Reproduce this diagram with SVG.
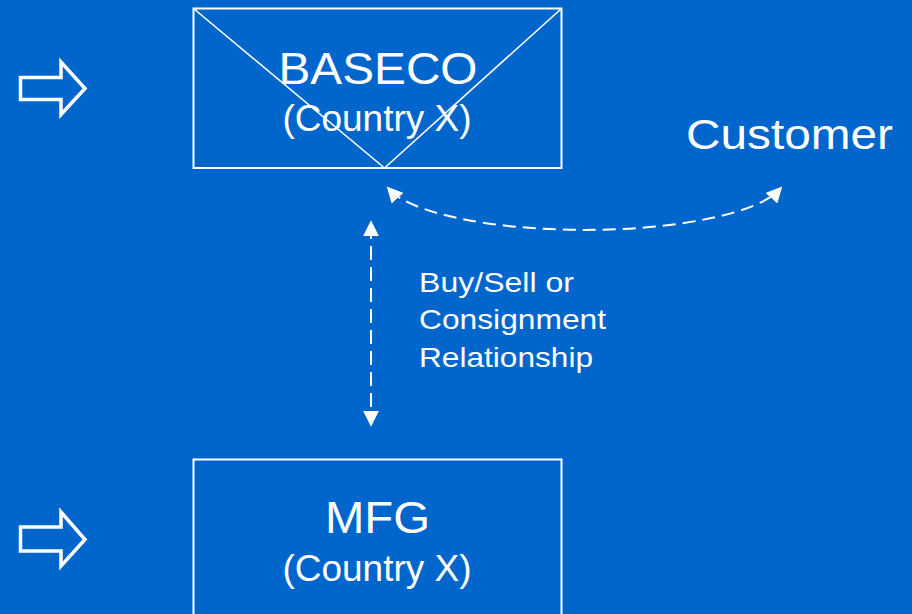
<svg xmlns="http://www.w3.org/2000/svg" width="912" height="614" viewBox="0 0 912 614">
  <defs>
    <style>
      .bg { fill: #0066cc; }
      .box { fill: none; stroke: #ffffff; stroke-width: 2; }
      .diag { stroke: #ffffff; stroke-width: 1.6; fill: none; }
      .blk { fill: none; stroke: #ffffff; stroke-width: 3.5; stroke-linejoin: miter; }
      .lbl { fill: #ffffff; font-family: "Liberation Sans", Arial, sans-serif; }
      .dash { fill: none; stroke: #ffffff; stroke-width: 2; }
    </style>
    <marker id="head" viewBox="0 0 10 10" refX="7" refY="5" markerWidth="16" markerHeight="16" markerUnits="userSpaceOnUse" orient="auto-start-reverse">
      <path d="M0,0 L10,5 L0,10 z" fill="#ffffff"/>
    </marker>
  </defs>

  <rect class="bg" x="0" y="0" width="912" height="614"/>

  <!-- side indicator arrows -->
  <g id="arrow-top">
    <polygon class="blk" points="20.5,77.5 61,77.5 61,62 85,88.5 61,114.5 61,99.5 20.5,99.5"/>
  </g>
  <g id="arrow-bottom">
    <polygon class="blk" points="20.5,527 61,527 61,512 85,539.5 61,566 61,551 20.5,551"/>
  </g>

  <!-- BASECO node -->
  <g id="baseco">
    <rect class="box" x="193.5" y="8.5" width="368" height="159.5"/>
    <line class="diag" x1="193.5" y1="8.5" x2="384.5" y2="168"/>
    <line class="diag" x1="561.5" y1="8.5" x2="384.5" y2="168"/>
    <text class="lbl" x="378" y="83.5" font-size="44" text-anchor="middle" textLength="199" lengthAdjust="spacingAndGlyphs">BASECO</text>
    <text class="lbl" x="377" y="131" font-size="37" text-anchor="middle">(Country X)</text>
  </g>

  <!-- Customer node -->
  <g id="customer">
    <text class="lbl" x="686" y="148.5" font-size="43" textLength="207" lengthAdjust="spacingAndGlyphs">Customer</text>
  </g>

  <!-- MFG node -->
  <g id="mfg">
    <rect class="box" x="193.5" y="459.5" width="368" height="170"/>
    <text class="lbl" x="377.5" y="533" font-size="44" text-anchor="middle" textLength="105" lengthAdjust="spacingAndGlyphs">MFG</text>
    <text class="lbl" x="377" y="581" font-size="37" text-anchor="middle">(Country X)</text>
  </g>

  <!-- relationship label -->
  <g id="relationship-label">
    <text class="lbl" x="419" y="291.5" font-size="28" textLength="155" lengthAdjust="spacingAndGlyphs">Buy/Sell or</text>
    <text class="lbl" x="419" y="329" font-size="28" textLength="187" lengthAdjust="spacingAndGlyphs">Consignment</text>
    <text class="lbl" x="419" y="366.5" font-size="28" textLength="174" lengthAdjust="spacingAndGlyphs">Relationship</text>
  </g>

  <!-- connectors -->
  <g id="connectors">
    <path class="dash" d="M390 190 A200 52 0 0 0 779 190" stroke-dasharray="13 7" marker-start="url(#head)" marker-end="url(#head)"/>
    <line class="dash" x1="371" y1="225" x2="371" y2="422" stroke-dasharray="14 7" marker-start="url(#head)" marker-end="url(#head)"/>
  </g>
</svg>
